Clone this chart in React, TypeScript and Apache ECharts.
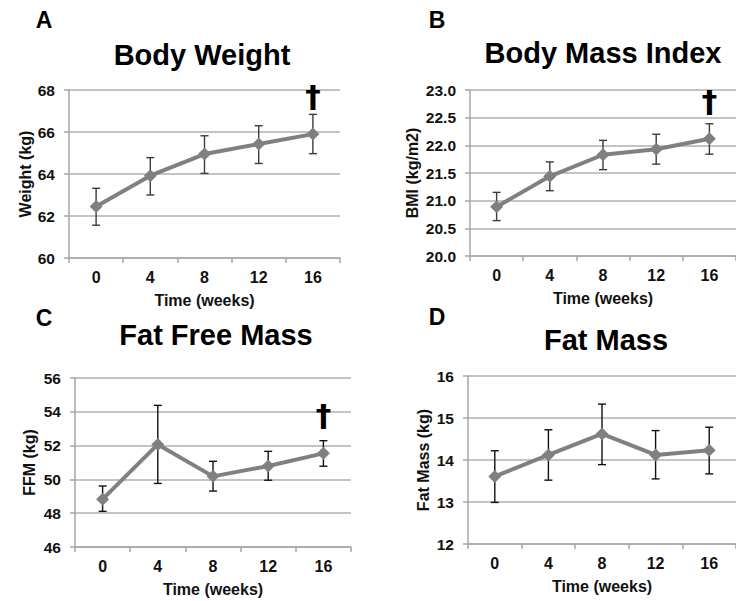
import React, { useEffect, useRef } from "react";
import * as echarts from "echarts";

const weeks = ["0", "4", "8", "12", "16"];

const weightMean = [62.45, 63.92, 64.95, 65.43, 65.9];
const weightLow = [61.56, 63.0, 64.03, 64.5, 64.97];
const weightHigh = [63.32, 64.78, 65.82, 66.3, 66.84];
const weightDagger = [false, false, false, false, true];

const bmiMean = [20.89, 21.44, 21.83, 21.93, 22.12];
const bmiLow = [20.64, 21.18, 21.56, 21.66, 21.84];
const bmiHigh = [21.15, 21.7, 22.09, 22.2, 22.39];
const bmiDagger = [false, false, false, false, true];

const ffmMean = [48.83, 52.07, 50.18, 50.79, 51.54];
const ffmLow = [48.11, 49.76, 49.31, 49.95, 50.78];
const ffmHigh = [49.61, 54.38, 51.07, 51.66, 52.29];
const ffmDagger = [false, false, false, false, true];

const fatMean = [13.61, 14.12, 14.62, 14.12, 14.23];
const fatLow = [12.99, 13.52, 13.89, 13.55, 13.67];
const fatHigh = [14.22, 14.72, 15.33, 14.7, 14.78];
const fatDagger = [false, false, false, false, false];

const FONT = "'Liberation Sans', Arial, sans-serif";

type Panel = {
  letter: string;
  title: string;
  yName: string;
  mean: number[];
  low: number[];
  high: number[];
  dagger: boolean[];
  min: number;
  max: number;
  interval: number;
  decimals: number;
  grid: { left: number; top: number; width: number; height: number };
  yNameGap: number;
  titlePos: [number, number];
  letterPos: [number, number];
  errColor: string;
};

const panels: Panel[] = [
  {
    letter: "A", title: "Body Weight", yName: "Weight (kg)",
    mean: weightMean, low: weightLow, high: weightHigh, dagger: weightDagger,
    min: 60, max: 68, interval: 2, decimals: 0,
    grid: { left: 69, top: 90, width: 271, height: 168 },
    yNameGap: 36, titlePos: [202, 55], letterPos: [44, 20], errColor: "#3c3c3c",
  },
  {
    letter: "B", title: "Body Mass Index", yName: "BMI (kg/m2)",
    mean: bmiMean, low: bmiLow, high: bmiHigh, dagger: bmiDagger,
    min: 20, max: 23, interval: 0.5, decimals: 1,
    grid: { left: 470, top: 90, width: 272, height: 166 },
    yNameGap: 50, titlePos: [603, 53], letterPos: [437, 20], errColor: "#3c3c3c",
  },
  {
    letter: "C", title: "Fat Free Mass", yName: "FFM (kg)",
    mean: ffmMean, low: ffmLow, high: ffmHigh, dagger: ffmDagger,
    min: 46, max: 56, interval: 2, decimals: 0,
    grid: { left: 75, top: 378, width: 276, height: 169 },
    yNameGap: 38, titlePos: [216, 335], letterPos: [44, 318], errColor: "#111111",
  },
  {
    letter: "D", title: "Fat Mass", yName: "Fat Mass (kg)",
    mean: fatMean, low: fatLow, high: fatHigh, dagger: fatDagger,
    min: 12, max: 16, interval: 1, decimals: 0,
    grid: { left: 468, top: 376, width: 275, height: 168 },
    yNameGap: 37, titlePos: [606, 340], letterPos: [437, 317], errColor: "#111111",
  },
];

const GRID_COLOR = "#b0b0b0";
const AXIS_COLOR = "#a6a6a6";
const TEXT_COLOR = "#111111";

export default function App() {
  const ref = useRef<HTMLDivElement>(null);

  useEffect(() => {
    if (!ref.current) return;
    const chart = echarts.init(ref.current, undefined, { renderer: "svg" });

    const grids = panels.map((p) => ({ ...p.grid, containLabel: false }));
    const xAxes = panels.map((p, i) => ({
      type: "category",
      gridIndex: i,
      data: weeks,
      boundaryGap: true,
      axisLine: { lineStyle: { color: AXIS_COLOR, width: 1.5 } },
      axisTick: { show: true, length: 5, lineStyle: { color: AXIS_COLOR, width: 1.5 } },
      axisLabel: { margin: 11, fontSize: 16, fontWeight: "bold", color: TEXT_COLOR, fontFamily: FONT },
      splitLine: { show: false },
      name: "Time (weeks)",
      nameLocation: "middle",
      nameGap: 34,
      nameTextStyle: { fontSize: 16, fontWeight: "bold", color: TEXT_COLOR, fontFamily: FONT },
    }));
    const yAxes = panels.map((p, i) => ({
      type: "value",
      gridIndex: i,
      min: p.min,
      max: p.max,
      interval: p.interval,
      axisLine: { show: true, lineStyle: { color: AXIS_COLOR, width: 1.5 } },
      axisTick: { show: true, length: 5, lineStyle: { color: AXIS_COLOR, width: 1.5 } },
      axisLabel: {
        margin: 14, fontSize: 15.5, fontWeight: "bold", color: TEXT_COLOR, fontFamily: FONT,
        formatter: (v: number) => v.toFixed(p.decimals),
      },
      splitLine: { show: true, lineStyle: { color: GRID_COLOR, width: 1.5 } },
      name: p.yName,
      nameLocation: "middle",
      nameGap: p.yNameGap,
      nameTextStyle: { fontSize: 16, fontWeight: "bold", color: TEXT_COLOR, fontFamily: FONT },
    }));

    const series: any[] = [];
    panels.forEach((p, i) => {
      series.push({
        type: "custom",
        xAxisIndex: i,
        yAxisIndex: i,
        z: 2,
        data: weeks.map((_, k) => [k, p.low[k], p.high[k]]),
        renderItem: (params: any, api: any) => {
          const lo = api.coord([api.value(0), api.value(1)]);
          const hi = api.coord([api.value(0), api.value(2)]);
          const half = 4;
          const style = { stroke: p.errColor, lineWidth: 1.4 };
          return {
            type: "group",
            children: [
              { type: "line", shape: { x1: lo[0], y1: lo[1], x2: hi[0], y2: hi[1] }, style },
              { type: "line", shape: { x1: hi[0] - half, y1: hi[1], x2: hi[0] + half, y2: hi[1] }, style },
              { type: "line", shape: { x1: lo[0] - half, y1: lo[1], x2: lo[0] + half, y2: lo[1] }, style },
            ],
          };
        },
      });
      series.push({
        type: "line",
        xAxisIndex: i,
        yAxisIndex: i,
        z: 3,
        symbol: "diamond",
        symbolSize: 13,
        lineStyle: { color: "#808080", width: 4 },
        itemStyle: { color: "#808080" },
        data: p.mean.map((v, k) => ({
          value: v,
          label: {
            show: p.dagger[k],
            formatter: "\u2020",
            position: "top",
            distance: 16,
            fontSize: 31,
            fontWeight: "bold",
            color: "#000",
            fontFamily: "'DejaVu Sans', sans-serif",
          },
        })),
      });
    });

    const graphics: any[] = [];
    panels.forEach((p) => {
      graphics.push({
        type: "text",
        x: p.titlePos[0],
        y: p.titlePos[1],
        style: {
          text: p.title, fontSize: 29, fontWeight: "bold", fill: "#000",
          fontFamily: FONT, align: "center", verticalAlign: "middle",
        },
      });
      graphics.push({
        type: "text",
        x: p.letterPos[0],
        y: p.letterPos[1],
        style: {
          text: p.letter, fontSize: 23, fontWeight: "bold", fill: "#000",
          fontFamily: FONT, align: "center", verticalAlign: "middle",
        },
      });
    });

    chart.setOption({
      animation: false,
      backgroundColor: "#ffffff",
      textStyle: { fontFamily: FONT },
      grid: grids,
      xAxis: xAxes,
      yAxis: yAxes,
      series,
      graphic: graphics,
    });

    return () => chart.dispose();
  }, []);

  return (
    <div
      ref={ref}
      style={{ position: "absolute", left: 0, top: 0, width: 736, height: 601 }}
    />
  );
}
